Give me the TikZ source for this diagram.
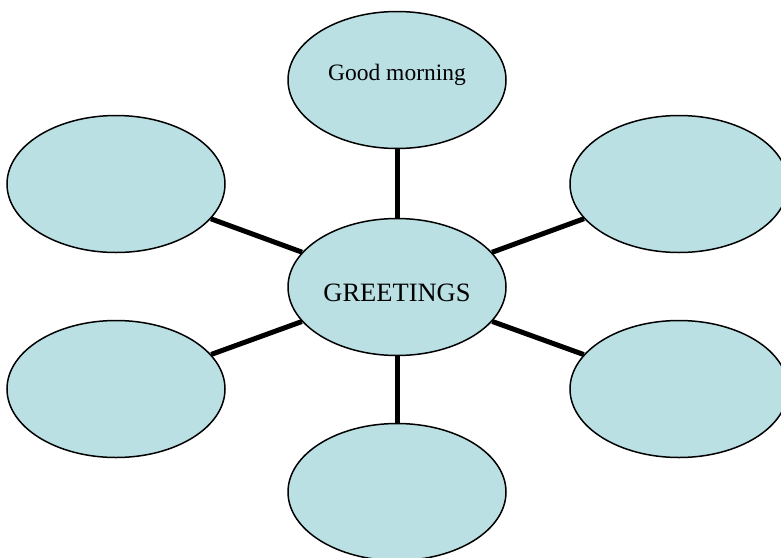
\documentclass[tikz,border=0pt]{standalone}
\usepackage{fontspec}
\setmainfont{Liberation Serif}
\usetikzlibrary{shapes.geometric}
\definecolor{bubble}{HTML}{BAE0E4}
\tikzset{leaf/.style={ellipse,draw=black,line width=1.5pt,fill=bubble,
    minimum width=218pt,minimum height=137pt,inner sep=0pt},
  spoke/.style={line width=5pt,draw=black}}

\begin{document}
\begin{tikzpicture}[x=1pt,y=-1pt]
\useasboundingbox (0,0) rectangle (781,557);
\clip (0,0) rectangle (781,557);
\node[leaf,font=\fontsize{23.5}{27}\selectfont,text height=9pt,text depth=9pt] (morning) at (397,80) {Good morning};
\node[leaf,font=\fontsize{26.5}{30}\selectfont,text height=28pt,text depth=0pt] (hub) at (397,287) {GREETINGS};
\node[leaf] (lt) at (116,184) {};
\node[leaf] (rt) at (679,184) {};
\node[leaf] (lb) at (116,389) {};
\node[leaf] (rb) at (679,389) {};
\node[leaf] (bot) at (397,492) {};
% spokes
\draw[spoke] (hub) -- (morning) (hub) -- (bot);
\draw[spoke] (hub) -- (lt) (hub) -- (rt) (hub) -- (lb) (hub) -- (rb);
\end{tikzpicture}
\end{document}
